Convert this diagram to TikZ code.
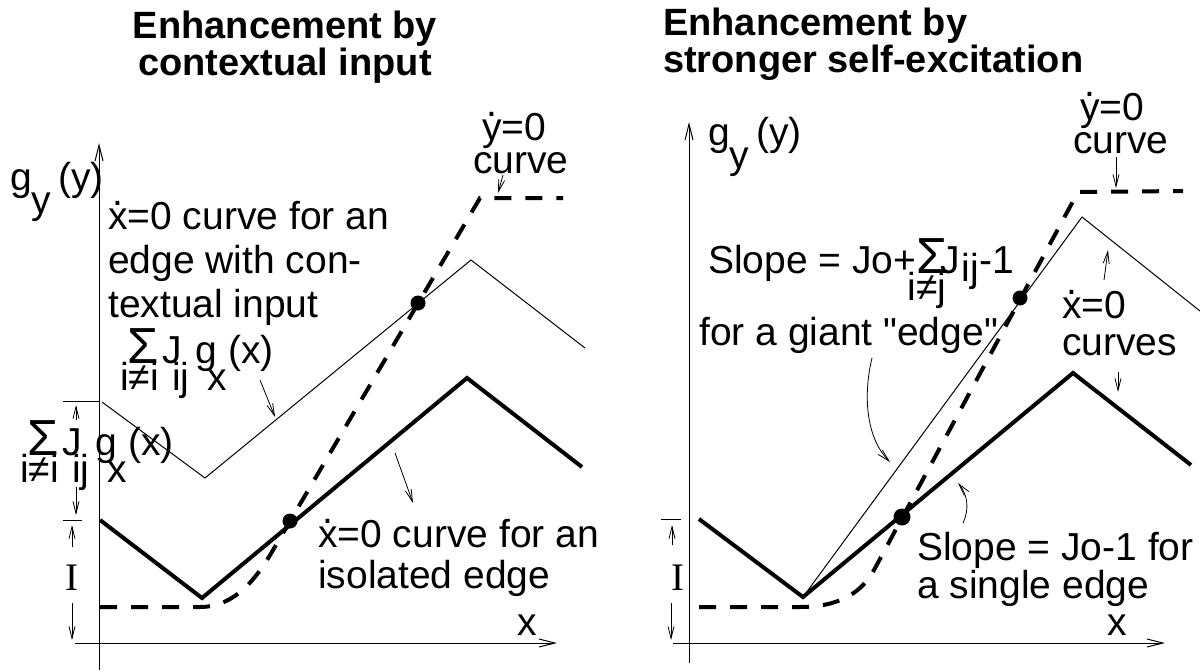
\documentclass[tikz,border=0pt]{standalone}
\usepackage{fontspec}
\setmainfont{Liberation Sans}[Ligatures=TeXOff]
\newfontfamily\serifI{Liberation Serif}
\usetikzlibrary{arrows.meta}

% lowered "subscript" set at full size, as in the original figure
\newcommand{\lo}[1]{\raisebox{-27pt}{#1}}
\newcommand{\dt}[1]{\ooalign{#1\cr\hidewidth\raisebox{24pt}{.}\hidewidth\cr}}
\newcommand{\smsig}{\scalebox{1.3}{Σ}}
\newcommand{\sumjg}{\rlap{\lo{i≠i}}\hspace{7pt}\rlap{\smsig}\hspace{35pt}\rlap{J}\hspace{10pt}\rlap{\lo{ij}}\hspace{23pt}\rlap{g}\hspace{12pt}\rlap{\lo{x}}\hspace{21pt}(x)}
\newcommand{\gyy}{g\raisebox{-23pt}{y}\hspace{7pt}(y)}

\begin{document}
\begin{tikzpicture}[x=1pt, y=-1pt,
  lbl/.style={font=\fontsize{39}{44}\selectfont, inner sep=0pt, align=left, anchor=base west},
  ttl/.style={font=\fontsize{38}{35}\selectfont\bfseries, inner sep=0pt},
  axis/.style={line width=1pt, -{Straight Barb[length=16pt,width=8pt]}},
  ptr/.style={line width=0.8pt, -{Straight Barb[length=12pt,width=6pt]}},
  dimln/.style={line width=0.8pt},
  thinc/.style={line width=1pt},
  thickc/.style={line width=4pt},
  nullc/.style={line width=4pt, dash pattern=on 17pt off 14pt},
  fixpt/.style={circle, fill, inner sep=0pt, minimum size=15pt}
]
\useasboundingbox (0,0) rectangle (1200,672);

% ---- left panel: contextual input ----
% (base of a multi-line node = baseline of its last line)
\node[ttl, align=center, anchor=base] (tl) at (285,75) {Enhancement by\\contextual input};

\coordinate (la0) at (99,670);
\coordinate (la1) at (99,143);
\coordinate (lx0) at (75,643);
\coordinate (lx1) at (557,643);
\draw[axis] (la0) -- (la1);
\draw[axis] (lx0) -- (lx1);
\node[lbl] (lgy) at (10,190) {\gyy};
\node[lbl, anchor=base] (lx) at (527,635) {x};

% x-dot = 0 curves and y-dot = 0 curve
\draw[thinc] (102,402) -- (205,478) -- (471,260) coordinate (lpk) -- (585,348);
\draw[thickc] (100,520) -- (202,598) -- (467,378) -- (582,467);
\draw[nullc] (100,607) -- (200,607) .. controls (240,607) and (262,569) .. (276,545)
  -- (480,198) -- (563,198);
\node[fixpt] (lfp1) at (290,521) {};
\node[fixpt] (lfp2) at (418,303) {};

% vertical offsets
\draw[dimln] (63,401) -- (99,401);
\draw[dimln] (63,520) -- (82,520);
\draw[ptr] (76,420) -- (76,405);
\draw[ptr] (76,487) -- (76,515);
\draw[ptr] (72,547) -- (72,525);
\draw[ptr] (72,603) -- (72,640);
\node[font=\fontsize{39}{39}\selectfont\serifI, inner sep=0pt] (lI) at (72,578) {I};

\node[lbl] (lctx) at (108,317) {\dt{x}=0 curve for an\\edge with con-\\textual input};
\node[lbl] (lsum1) at (120,363) {\sumjg};
\node[lbl] (lsum2) at (20,455) {\sumjg};
\node[lbl, font=\fontsize{39}{41}\selectfont] (liso) at (318,588) {\dt{x}=0 curve for an\\isolated edge};
\node[lbl, font=\fontsize{39}{33}\selectfont] (lyc) at (473,173) {\hspace*{9pt}\dt{y}=0\\curve};

\coordinate (lp1a) at (260,380);
\coordinate (lp1b) at (275,417);
\coordinate (lp2a) at (395,453);
\coordinate (lp2b) at (413,503);
\coordinate (lp3a) at (503,175);
\coordinate (lp3b) at (498,193);
\draw[ptr] (lp1a) -- (lp1b);
\draw[ptr] (lp2a) -- (lp2b);
\draw[ptr] (lp3a) -- (lp3b);

% ---- right panel: stronger self-excitation ----
\node[ttl, align=left, anchor=base west] (tr) at (663,72) {Enhancement by\\stronger self-excitation};

\coordinate (ra0) at (689,663);
\coordinate (ra1) at (689,122);
\coordinate (rx0) at (673,643);
\coordinate (rx1) at (1165,643);
\draw[axis] (ra0) -- (ra1);
\draw[axis] (rx0) -- (rx1);
\node[lbl] (rgy) at (708,145) {\gyy};
\node[lbl, anchor=base] (rx) at (1117,635) {x};

\draw[thickc] (699,519) -- (803,597) -- (1073,373) -- (1191,465);
\draw[thinc] (803,597) -- (1082,217) -- (1200,311);
\draw[nullc] (699,607) -- (800,607) .. controls (840,607) and (862,592) .. (874,570)
  -- (1078,192) -- (1183,191);
\node[fixpt, minimum size=17pt] (rfp1) at (902,517) {};
\node[fixpt] (rfp2) at (1020,298) {};

\draw[dimln] (661,519) -- (681,519);
\draw[ptr] (672,545) -- (672,525);
\draw[ptr] (671,603) -- (671,640);
\node[font=\fontsize{39}{39}\selectfont\serifI, inner sep=0pt] (rI) at (678,578) {I};

\node[lbl] (rslp) at (708,273) {Slope = Jo+\hspace{-9pt}\rlap{\lo{i≠j}}\hspace{9pt}\rlap{\smsig}\hspace{24pt}J\hspace{2pt}\raisebox{-8pt}{ij}-1};
\node[lbl] (rgnt) at (699,345) {for a giant "edge"};
\node[lbl, font=\fontsize{39}{33}\selectfont] (ryc) at (1073,153) {\hspace*{7pt}\dt{y}=0\\curve};
\node[lbl, font=\fontsize{39}{37}\selectfont] (rxc) at (1062,355) {\dt{x}=0\\curves};
\node[lbl, font=\fontsize{39}{35}\selectfont] (rsgl) at (917,598) {Slope = Jo-1 for\\a single edge};

\coordinate (rp1a) at (1116,157);
\coordinate (rp1b) at (1116,188);
\coordinate (rp2a) at (1104,280);
\coordinate (rp2b) at (1108,250);
\coordinate (rp3a) at (1118,372);
\coordinate (rp3b) at (1118,392);
\coordinate (rp4a) at (872,358);
\coordinate (rp4b) at (890,462);
\coordinate (rp5a) at (963,523);
\coordinate (rp5b) at (958,483);
\draw[ptr] (rp1a) -- (rp1b);
\draw[ptr] (rp2a) -- (rp2b);
\draw[ptr] (rp3a) -- (rp3b);
\draw[ptr] (rp4a) .. controls (862,400) and (868,440) .. (rp4b);
\draw[ptr] (rp5a) .. controls (970,508) and (967,494) .. (rp5b);
\end{tikzpicture}
\end{document}
